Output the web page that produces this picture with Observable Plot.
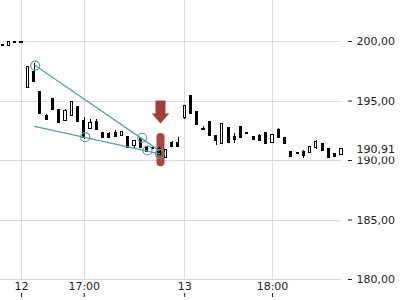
<!DOCTYPE html>
<html><head><meta charset="utf-8">
<script src="https://cdn.jsdelivr.net/npm/d3@7"></script>
<script src="https://cdn.jsdelivr.net/npm/@observablehq/plot@0.6"></script>
<style>
html,body{margin:0;padding:0;background:#fff;}
#chart svg{display:block;}
</style></head><body><div id="chart"></div>
<script>
// 15-minute candles, index 0..54
const open = [199.70,199.66,199.90,199.90,196.16,197.39,195.71,193.70,195.13,194.20,
  193.36,193.76,194.43,193.30,192.71,193.19,192.24,192.18,192.29,192.08,
  191.91,191.29,191.74,191.12,190.98,190.90,190.28,191.42,191.40,193.64,
  195.40,194.01,192.58,193.17,192.04,191.40,192.71,191.96,192.77,192.24,
  191.96,192.04,192.31,191.54,192.52,191.87,190.65,190.56,190.65,190.70,
  191.12,191.32,190.90,190.50,190.48];
const close = [199.64,199.92,199.90,199.90,197.84,196.66,193.97,193.42,194.31,193.22,
  194.14,194.87,193.25,191.91,193.08,192.63,191.91,191.96,192.02,192.33,
  191.12,191.57,191.07,190.78,190.98,190.50,190.84,191.20,191.18,194.56,
  193.92,193.00,192.58,192.10,191.68,193.00,191.54,191.76,191.96,192.24,
  191.76,191.68,191.43,192.10,191.96,191.40,190.36,190.56,190.42,191.12,
  191.49,190.84,190.28,190.36,190.91];
const high = [199.72,199.95,199.90,199.90,197.90,198.15,195.75,193.87,195.15,194.22,
  194.31,194.90,194.45,193.59,193.42,193.42,192.25,192.38,192.52,192.35,
  192.02,191.60,191.90,191.20,190.98,191.07,190.86,191.60,191.91,194.60,
  195.45,194.03,192.86,193.20,192.06,193.02,192.73,192.27,192.79,192.24,
  191.98,192.16,192.33,192.12,192.69,191.89,190.67,190.56,190.84,191.14,
  191.68,191.34,190.92,190.52,190.93];
const low = [199.56,199.64,199.90,199.90,196.10,196.60,193.90,193.40,194.29,193.20,
  193.34,193.70,193.23,191.74,192.69,192.60,191.83,191.94,192.00,192.05,
  191.10,190.98,191.00,190.75,190.98,190.42,190.26,191.18,191.10,193.42,
  193.90,192.98,192.58,192.08,191.26,191.38,191.52,191.43,191.94,192.24,
  191.74,191.66,191.41,191.52,191.90,191.38,190.34,190.56,190.17,190.68,
  190.92,190.82,190.26,190.34,190.46];

const tickIdx = [3, 13, 29, 43];
const tickLabels = ["12", "17:00", "13", "18:00"];
const yTicks = [180, 185, 190, 195, 200];

// trendline annotations (index, price)
const upperI = [5.18, 24.9];
const upperV = [197.98, 190.85];
const lowerI = [5.07, 25.04];
const lowerV = [192.86, 190.56];
const circleI = [5.18, 13.15, 22.23, 23.08, 25.04];
const circleV = [197.98, 191.96, 191.91, 190.84, 190.56];
// signal marker
const markI = [25.15];
const markTop = [191.93];
const markBottom = [189.81];
const arrowV = [194.03];

const bars = open.map((o, i) => ({i, open: o, close: close[i], high: high[i], low: low[i]}));
const upper = upperI.map((i, k) => ({i, v: upperV[k]}));
const lower = lowerI.map((i, k) => ({i, v: lowerV[k]}));
const circles = circleI.map((i, k) => ({i, v: circleV[k]}));
const marker = markI.map((i, k) => ({i, y1: markTop[k], y2: markBottom[k], a: arrowV[k]}));
const last = [close[close.length - 1]];
const fmt = d => d.toFixed(2).replace(".", ",");

const teal = "#5aa0a6";
const red = "#a33d37";

const arrowSymbol = {
  draw(ctx) {
    ctx.moveTo(-5, -12);
    ctx.lineTo(5, -12);
    ctx.lineTo(5, 1);
    ctx.lineTo(8.7, 1);
    ctx.lineTo(0, 11);
    ctx.lineTo(-8.7, 1);
    ctx.lineTo(-5, 1);
    ctx.closePath();
  }
};

const chart = Plot.plot({
  width: 400, height: 300,
  marginTop: 0, marginBottom: 21, marginLeft: 0, marginRight: 59,
  style: {fontFamily: "DejaVu Sans", fontSize: "11px", color: "#222", background: "#fff"},
  x: {domain: [0, 54], range: [2.2, 341], axis: null},
  y: {domain: [180, 200], range: [279, 41], axis: null},
  color: {type: "identity"},
  marks: [
    Plot.gridX(tickIdx, {stroke: "#dcdcdc", strokeOpacity: 1, shapeRendering: "crispEdges"}),
    Plot.gridY(yTicks, {stroke: "#dcdcdc", strokeOpacity: 1, shapeRendering: "crispEdges"}),
    Plot.axisY(yTicks, {anchor: "right", tickSize: 4, tickPadding: 5, dx: 6, tickFormat: fmt, label: null}),
    Plot.axisX(tickIdx, {anchor: "bottom", tickSize: 0, tickPadding: 3, tickFormat: d => tickLabels[tickIdx.indexOf(d)], label: null}),
    Plot.axisX(tickIdx, {anchor: "bottom", tickSize: 4, dy: 14, tickFormat: () => "", label: null}),
    Plot.ruleX(marker, {x: "i", y1: "y1", y2: "y2", stroke: red, strokeWidth: 8, strokeLinecap: "round", strokeOpacity: 0.95}),
    Plot.ruleX(bars, {x: "i", y1: "low", y2: "high", stroke: "#000", strokeWidth: 1, shapeRendering: "crispEdges"}),
    Plot.rect(bars, {x1: d => d.i - 0.17, x2: d => d.i + 0.17, y1: "open", y2: "close",
      fill: d => d.close > d.open ? "#fff" : "#000", stroke: "#000", strokeWidth: 1,
      insetTop: -0.5, insetBottom: -0.5, shapeRendering: "crispEdges"}),
    Plot.line(upper, {x: "i", y: "v", stroke: teal, strokeWidth: 1.3}),
    Plot.line(lower, {x: "i", y: "v", stroke: teal, strokeWidth: 1.3}),
    Plot.dot(circles, {x: "i", y: "v", r: 4.5, stroke: teal, strokeWidth: 1.2, fill: "none"}),
    Plot.dot(marker, {x: "i", y: "a", symbol: arrowSymbol, r: 1, fill: red, stroke: "none"}),
    Plot.text(last, {y: d => d, frameAnchor: "right", dx: 15, textAnchor: "start", text: fmt,
      fill: "#222", stroke: "white", strokeWidth: 7, fontSize: 11})
  ]
});
document.getElementById("chart").appendChild(chart);
</script>
</body></html>
